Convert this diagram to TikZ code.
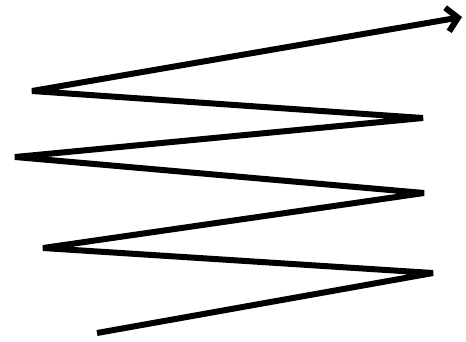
\documentclass[tikz,border=0pt]{standalone}
\usetikzlibrary{arrows.meta}
\begin{document}
\begin{tikzpicture}[x=1pt,y=-1pt,
  zig/.style={line width=6pt, line join=bevel, line cap=butt, black}]
\useasboundingbox (0,0) rectangle (466,341);
\coordinate (p0) at (97,333);
\coordinate (p1) at (433,273);
\coordinate (p2) at (43,248);
\coordinate (p3) at (424,193);
\coordinate (p4) at (15,157);
\coordinate (p5) at (423,118);
\coordinate (p6) at (32,91);
\coordinate (p7) at (462,17);
\draw[zig, -{Straight Barb[length=11pt,width=24pt,line width=6pt]}]
  (p0) -- (p1) -- (p2) -- (p3) -- (p4) -- (p5) -- (p6) -- (p7);
\end{tikzpicture}
\end{document}
